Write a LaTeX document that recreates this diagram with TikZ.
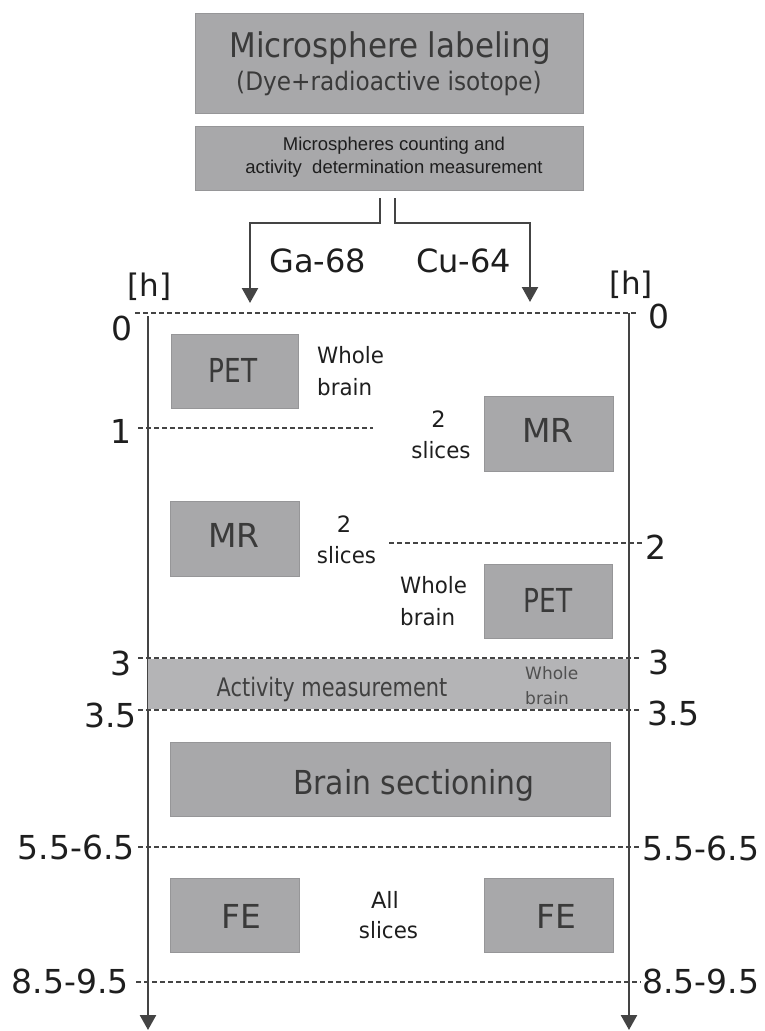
\documentclass[tikz,border=0pt]{standalone}
\usepackage{fontspec}
\usepackage{graphicx}
\setmainfont{DejaVu Sans}
\newfontfamily\arialfont{Liberation Sans}
\usetikzlibrary{arrows.meta}

\definecolor{boxgray}{RGB}{168,168,170}
\definecolor{boxedge}{RGB}{150,150,152}
\definecolor{bandgray}{RGB}{180,180,182}
\definecolor{boxtext}{RGB}{58,58,58}
\definecolor{linecol}{RGB}{68,68,68}
\definecolor{labelcol}{RGB}{30,30,30}
\definecolor{softtext}{RGB}{80,80,80}

% font size in pt with matching line skip
\newcommand{\fsz}[1]{\fontsize{#1}{#1}\selectfont}
% horizontally squeezed text
\newcommand{\sqz}[2]{\scalebox{#1}[1]{#2}}

\begin{document}
\begin{tikzpicture}[x=1pt,y=-1pt,
  graybox/.style={fill=boxgray, draw=boxedge, line width=0.6, inner sep=0, anchor=north west},
  boxlabel/.style={font=\fsz{33}, text=boxtext, inner sep=0},
  sidetext/.style={font=\fsz{22.5}, text=labelcol, inner sep=0},
  num/.style={font=\fsz{33}, text=labelcol, inner sep=0},
  timeline/.style={draw=linecol, line width=2.5, -{Triangle[length=15pt,width=16pt]}},
  isoarrow/.style={draw=linecol, line width=2.3, -{Triangle[length=15pt,width=16pt]}},
  hourline/.style={draw=linecol, line width=1.8, dash pattern=on 5pt off 3pt}
]
\useasboundingbox (0,0) rectangle (765,1031);

% ---------- header boxes ----------
\node[graybox, minimum width=388, minimum height=100] (labeling) at (195,13) {};
\node[font=\fsz{34}, text=boxtext, inner sep=0, anchor=base] (labelT1) at (390,57) {\sqz{0.91}{Microsphere labeling}};
\node[font=\fsz{25.5}, text=boxtext, inner sep=0, anchor=base] (labelT2) at (389,90) {\sqz{0.91}{(Dye+radioactive isotope)}};

\node[graybox, minimum width=388, minimum height=64] (counting) at (195,126) {};
\node[font=\arialfont\fsz{18.5}, text=labelcol, inner sep=0, anchor=base] (countT1) at (394,150) {Microspheres counting and};
\node[font=\arialfont\fsz{18.5}, text=labelcol, inner sep=0, anchor=base] (countT2) at (394,173) {activity\ \ determination measurement};

% ---------- isotope branches ----------
\coordinate (gaTop) at (380,198);
\coordinate (gaBend) at (380,223);
\coordinate (gaCorner) at (250,223);
\coordinate (gaTip) at (250,303);
\coordinate (cuTop) at (395,198);
\coordinate (cuBend) at (395,223);
\coordinate (cuCorner) at (530,223);
\coordinate (cuTip) at (530,302);
\draw[isoarrow] (gaTop) -- (gaBend) -- (gaCorner) -- (gaTip);
\draw[isoarrow] (cuTop) -- (cuBend) -- (cuCorner) -- (cuTip);

\node[font=\fsz{32}, text=labelcol, inner sep=0, anchor=base west] (ga) at (269,272) {Ga-68};
\node[font=\fsz{32}, text=labelcol, inner sep=0, anchor=base west] (cu) at (416,272) {Cu-64};

% ---------- time axes ----------
\node[font=\fsz{31}, text=labelcol, inner sep=0, anchor=base] (unitL) at (149.5,296) {[h]};
\node[font=\fsz{31}, text=labelcol, inner sep=0, anchor=base] (unitR) at (631,294) {[h]};

\coordinate (axLtop) at (148,316);
\coordinate (axLend) at (148,1030);
\coordinate (axRtop) at (629,313);
\coordinate (axRend) at (629,1030);
\draw[timeline] (axLtop) -- (axLend);
\draw[timeline] (axRtop) -- (axRend);

% ---------- hour marks ----------
\node[num, anchor=east] (hL0) at (133,328) {0};
\node[num, anchor=west] (hR0) at (648,316) {0};
\node[num, anchor=east] (hL1) at (132,431) {1};
\node[num, anchor=west] (hR2) at (645,547) {2};
\node[num, anchor=east] (hL3) at (132,663) {3};
\node[num, anchor=west] (hR3) at (648,662) {3};
\node[num, anchor=east] (hL35) at (137,715) {3.5};
\node[num, anchor=west] (hR35) at (647,713) {3.5};
\node[num, anchor=east] (hL55) at (135,847) {5.5-6.5};
\node[num, anchor=west] (hR55) at (642,848) {5.5-6.5};
\node[num, anchor=east] (hL85) at (129,981) {8.5-9.5};
\node[num, anchor=west] (hR85) at (642,981) {8.5-9.5};

\coordinate (d0a) at (135,313);   \coordinate (d0b) at (638,313);
\coordinate (d1a) at (138,428);   \coordinate (d1b) at (373,428);
\coordinate (d2a) at (389,543);   \coordinate (d2b) at (643,543);
\coordinate (d3a) at (138,658);   \coordinate (d3b) at (641,658);
\coordinate (d35a) at (138,710);  \coordinate (d35b) at (641,710);
\coordinate (d55a) at (138,847);  \coordinate (d55b) at (641,847);
\coordinate (d85a) at (136,982);  \coordinate (d85b) at (641,982);

% ---------- activity band (under its dashed borders) ----------
\fill[bandgray] (148,659) rectangle (628,709);
\node[font=\fsz{25.5}, text=softtext!80!black, inner sep=0, anchor=base] (activity) at (332,696) {\sqz{0.82}{Activity measurement}};
\node[font=\fsz{17}, text=softtext, inner sep=0, anchor=base west] (actWhole) at (525,679) {Whole};
\node[font=\fsz{17}, text=softtext, inner sep=0, anchor=base west] (actBrain) at (525,704) {brain};

\draw[hourline] (d0a) -- (d0b);
\draw[hourline] (d1a) -- (d1b);
\draw[hourline] (d2a) -- (d2b);
\draw[hourline] (d3a) -- (d3b);
\draw[hourline] (d35a) -- (d35b);
\draw[hourline] (d55a) -- (d55b);
\draw[hourline] (d85a) -- (d85b);

% ---------- imaging sessions ----------
\node[graybox, minimum width=127, minimum height=74] (petA) at (171,334) {};
\node[boxlabel] (petAT) at (233,370) {\sqz{0.8}{PET}};
\node[sidetext, anchor=base west] (petAw1) at (317,363) {\sqz{0.95}{Whole}};
\node[sidetext, anchor=base west] (petAw2) at (317,395) {\sqz{0.95}{brain}};

\node[graybox, minimum width=129, minimum height=75] (mrB) at (484,396) {};
\node[boxlabel] (mrBT) at (548,430) {MR};
\node[sidetext, anchor=base] (mrBs1) at (438.5,427) {2};
\node[sidetext, anchor=base] (mrBs2) at (441,458) {\sqz{0.95}{slices}};

\node[graybox, minimum width=129, minimum height=75] (mrA) at (170,501) {};
\node[boxlabel] (mrAT) at (234,535) {MR};
\node[sidetext, anchor=base] (mrAs1) at (344,532) {2};
\node[sidetext, anchor=base] (mrAs2) at (346.5,563) {\sqz{0.95}{slices}};

\node[graybox, minimum width=128, minimum height=74] (petB) at (484,564) {};
\node[boxlabel] (petBT) at (548,600) {\sqz{0.8}{PET}};
\node[sidetext, anchor=base west] (petBw1) at (400,593) {\sqz{0.95}{Whole}};
\node[sidetext, anchor=base west] (petBw2) at (400,625) {\sqz{0.95}{brain}};

% ---------- sectioning ----------
\node[graybox, minimum width=440, minimum height=74] (section) at (170,742) {};
\node[boxlabel, anchor=base] (sectionT) at (414,794) {\sqz{0.906}{Brain sectioning}};

% ---------- fluorescence evaluation ----------
\node[graybox, minimum width=129, minimum height=74] (feA) at (170,878) {};
\node[boxlabel] (feAT) at (241,916) {FE};
\node[graybox, minimum width=129, minimum height=74] (feB) at (484,878) {};
\node[boxlabel] (feBT) at (556,916) {FE};
\node[sidetext, anchor=base] (allS1) at (385,908) {All};
\node[sidetext, anchor=base] (allS2) at (388.5,938) {\sqz{0.95}{slices}};

\end{tikzpicture}
\end{document}
